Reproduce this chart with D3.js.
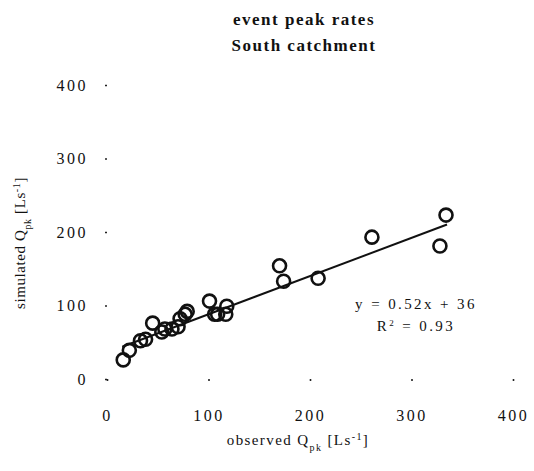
<!DOCTYPE html>
<html>
<head>
<meta charset="utf-8">
<script src="https://cdn.jsdelivr.net/npm/d3@7"></script>
<style>
  html, body { margin: 0; padding: 0; background: #fff; }
  svg { display: block; }
  text { font-family: "Liberation Serif", "Times New Roman", serif; fill: #111; }
</style>
</head>
<body>
<svg id="chart" width="534" height="471"></svg>
<script>
// Observed vs simulated event peak flows, South catchment [L s^-1]
const observed  = [16, 22, 33, 38, 45, 54, 57, 64, 70, 72, 77, 79, 101, 106, 109, 117, 118, 170, 174, 208, 261, 328, 334];
const simulated = [26, 39, 52, 54, 76, 64, 68, 68, 71, 82, 88, 92, 106, 88, 88, 88, 99, 154, 133, 137, 193, 181, 223];

const xTicks = [0, 100, 200, 300, 400];
const yTicks = [0, 100, 200, 300, 400];

// Least-squares fit shown on the chart
const fitSlope = 0.52, fitIntercept = 36, fitR2 = 0.93;
const fitRange = [15, 335];

const svg = d3.select("#chart");

const x = d3.scaleLinear().domain([0, 400]).range([107, 513]);
const y = d3.scaleLinear().domain([0, 400]).range([379, 85]);

// Title
const titleStyle = sel => sel
  .attr("text-anchor", "middle")
  .style("font-weight", "bold").style("font-size", "17px").style("letter-spacing", "1.5px");
svg.append("text").attr("x", 304).attr("y", 25).call(titleStyle).text("event peak rates");
svg.append("text").attr("x", 304).attr("y", 51).call(titleStyle).text("South catchment");

// Axes: no axis line, only tiny tick marks
const xAxis = d3.axisBottom(x).tickValues(xTicks).tickSize(2).tickPadding(29);
const yAxis = d3.axisLeft(y).tickValues(yTicks).tickSize(2).tickPadding(17);

const gx = svg.append("g").attr("transform", `translate(0,${y(0)})`).call(xAxis);
const gy = svg.append("g").attr("transform", `translate(${x(0)},0)`).call(yAxis);
[gx, gy].forEach(g => {
  g.select(".domain").remove();
  g.selectAll(".tick line").attr("stroke", "#222").attr("stroke-width", 1.6);
  g.selectAll(".tick text")
    .style("font-family", "'Liberation Serif', serif")
    .style("font-size", "16px")
    .style("letter-spacing", "2.5px")
    .attr("fill", "#111");
});

// Axis titles
const xt = svg.append("text")
  .attr("x", 298).attr("y", 445)
  .attr("text-anchor", "middle")
  .style("font-size", "15px").style("letter-spacing", "1.4px");
xt.append("tspan").text("observed Q");
xt.append("tspan").attr("baseline-shift", "sub").style("font-size", "10px").text("pk");
xt.append("tspan").text(" [Ls");
xt.append("tspan").attr("baseline-shift", "super").style("font-size", "10px").text("-1");
xt.append("tspan").text("]");

const yt = svg.append("text")
  .attr("transform", "translate(25,243) rotate(-90)")
  .attr("text-anchor", "middle")
  .style("font-size", "15px").style("letter-spacing", "0.6px");
yt.append("tspan").text("simulated Q");
yt.append("tspan").attr("baseline-shift", "sub").style("font-size", "10px").text("pk");
yt.append("tspan").text(" [Ls");
yt.append("tspan").attr("baseline-shift", "super").style("font-size", "10px").text("-1");
yt.append("tspan").text("]");

// Regression line
svg.append("line")
  .attr("x1", x(fitRange[0])).attr("y1", y(fitSlope * fitRange[0] + fitIntercept))
  .attr("x2", x(fitRange[1])).attr("y2", y(fitSlope * fitRange[1] + fitIntercept))
  .attr("stroke", "#111").attr("stroke-width", 2);

// Data points
svg.append("g").selectAll("circle")
  .data(observed.map((o, i) => [o, simulated[i]]))
  .join("circle")
  .attr("cx", d => x(d[0]))
  .attr("cy", d => y(d[1]))
  .attr("r", 6.5)
  .attr("fill", "none")
  .attr("stroke", "#111")
  .attr("stroke-width", 2.6);

// Fit annotation
svg.append("text")
  .attr("x", 416).attr("y", 309)
  .attr("text-anchor", "middle")
  .style("font-size", "15px").style("letter-spacing", "2.4px")
  .text(`y = ${fitSlope}x + ${fitIntercept}`);
const r2 = svg.append("text")
  .attr("x", 416).attr("y", 331)
  .attr("text-anchor", "middle")
  .style("font-size", "15px").style("letter-spacing", "2.4px");
r2.append("tspan").text("R");
r2.append("tspan").attr("baseline-shift", "super").style("font-size", "9px").text("2");
r2.append("tspan").text(` = ${fitR2}`);
</script>
</body>
</html>
